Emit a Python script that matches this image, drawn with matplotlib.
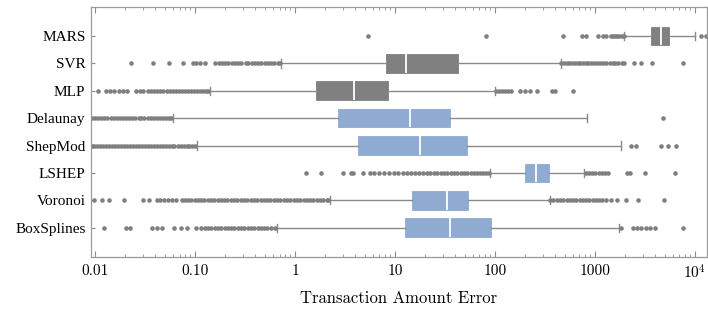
import matplotlib
matplotlib.use("Agg")
import matplotlib.pyplot as plt
import matplotlib.ticker as ticker

plt.rcParams['mathtext.fontset'] = 'cm'

# 各模型的名称（从上到下）
models = ['MARS', 'SVR', 'MLP', 'Delaunay', 'ShepMod', 'LSHEP', 'Voronoi', 'BoxSplines']

# 箱线统计量: 下须, Q1, 中位数, Q3, 上须
whis_lo = [1970, 0.73, 0.141, 0.0605, 0.104, 89.7, 2.23, 0.66]
q1 = [3630, 8.2, 1.61, 2.69, 4.26, 198, 14.8, 12.5]
med = [4570, 13.0, 3.86, 14.0, 17.7, 259, 33.2, 35.2]
q3 = [5460, 42.7, 8.5, 35.2, 52.5, 346, 53.7, 91.9]
whis_hi = [10100, 457, 99, 828, 1820, 775, 357, 1730]

# 离群点
fliers_mars = [5.4, 82, 484, 740, 810, 1080, 1200, 1300, 1450, 1520, 1600, 1680,
               1760, 1850, 1950, 11500, 12900]
fliers_svr = [0.023, 0.0377, 0.0553, 0.075, 0.095, 0.103, 0.112, 0.125,
              0.16, 0.172, 0.185, 0.2, 0.215, 0.232, 0.25, 0.268, 0.285,
              0.32, 0.34, 0.37, 0.40, 0.43, 0.46, 0.5, 0.54, 0.58, 0.62, 0.67, 0.71,
              460, 490, 520, 550, 590, 630, 670, 710, 760, 810, 860, 920, 980,
              1050, 1120, 1200, 1300, 1400, 1500, 1600, 1720, 1850, 1960,
              2450, 2880, 3720, 7540]
fliers_mlp = [0.0108, 0.013, 0.0142, 0.0155, 0.0172, 0.019, 0.0207, 0.0257, 0.028,
              0.0304, 0.034, 0.0365, 0.039, 0.042, 0.045, 0.048, 0.052, 0.056, 0.06,
              0.064, 0.069, 0.074, 0.079, 0.085, 0.091, 0.098, 0.105, 0.113, 0.121,
              0.13, 0.135,
              102, 110, 118, 127, 136, 145, 179, 202, 225, 262, 372, 400, 600]
fliers_delaunay = [0.0093, 0.01, 0.0107, 0.0115, 0.0124, 0.0133, 0.0143, 0.0153,
                   0.0165, 0.0177, 0.019, 0.0204, 0.022, 0.0236, 0.0253, 0.0272,
                   0.029, 0.031, 0.0335, 0.036, 0.0385, 0.0415, 0.0445, 0.048,
                   0.051, 0.055, 0.058, 4830]
fliers_shepmod = [0.0093, 0.0098, 0.0105, 0.0112, 0.012, 0.0128, 0.0137, 0.0147,
                  0.0157, 0.0168, 0.018, 0.0193, 0.0207, 0.0222, 0.0238, 0.0255,
                  0.0273, 0.0292, 0.0313, 0.0335, 0.036, 0.0385, 0.0412, 0.0442,
                  0.0473, 0.0507, 0.0543, 0.0582, 0.0623, 0.0668, 0.0716, 0.0767,
                  0.0822, 0.088, 0.0943, 0.101,
                  2300, 2580, 4570, 5350, 6480]
fliers_lshep = [1.3, 1.84, 3.0, 3.67, 3.8, 4.8,
                5.6, 6.2, 7.0, 7.8, 8.7, 9.7, 10.8, 12, 13.3, 14.6, 16, 17.5, 19,
                20.7, 22.5, 24.5, 26.5, 28.7, 31, 33.5, 36, 39, 42, 45.5, 49, 53,
                57, 61.5, 66, 71, 76.5, 82, 88,
                810, 870, 940, 1010, 1090, 1170, 1260, 1340, 2100, 2220, 3150, 6300]
fliers_voronoi = [0.0098, 0.0117, 0.0138, 0.0196, 0.0304, 0.0349, 0.0413, 0.045,
                  0.049, 0.0535, 0.0583, 0.0645,
                  0.0735, 0.079, 0.085, 0.092, 0.099, 0.107, 0.115, 0.124, 0.134,
                  0.145, 0.156, 0.168, 0.181, 0.196, 0.211, 0.228, 0.246, 0.265,
                  0.286, 0.309, 0.333, 0.36, 0.388, 0.419, 0.452, 0.488, 0.526,
                  0.568, 0.613, 0.661, 0.713, 0.77, 0.83, 0.896, 0.967, 1.04, 1.13,
                  1.22, 1.31, 1.42, 1.53, 1.65, 1.78, 1.92, 2.07, 2.14,
                  357, 385, 415, 447, 482, 520, 560, 604, 651, 702, 757, 816, 880,
                  948, 1020, 1100, 1190, 1295, 1450, 1650, 2050, 2680, 4860]
fliers_boxsplines = [0.0123, 0.0204, 0.0224, 0.037, 0.0414, 0.0464, 0.0616, 0.0718,
                     0.0836, 0.102, 0.116, 0.125, 0.135, 0.146, 0.157, 0.17, 0.183,
                     0.198, 0.213, 0.23, 0.248, 0.268, 0.289, 0.312, 0.336, 0.363,
                     0.391, 0.422, 0.455, 0.491, 0.53, 0.572, 0.628,
                     1820, 2390, 2640, 2920, 3230, 3580, 3950, 7660]
fliers = [fliers_mars, fliers_svr, fliers_mlp, fliers_delaunay, fliers_shepmod,
          fliers_lshep, fliers_voronoi, fliers_boxsplines]

gray = '#808080'
blue = '#8FABD1'
box_colors = [gray, gray, gray, blue, blue, blue, blue, blue]

tick_vals = [0.01, 0.1, 1, 10, 100, 1000, 10000]
tick_text = ['0.01', '0.10', '1', '10', '100', '1000', '$10^4$']

stats = []
for i, name in enumerate(models):
    stats.append(dict(label=name, whislo=whis_lo[i], q1=q1[i], med=med[i],
                      q3=q3[i], whishi=whis_hi[i], fliers=fliers[i]))

fig = plt.figure(figsize=(7.08, 3.2), dpi=100)
ax = fig.add_axes([0.1285, 0.197, 0.87, 0.781])

pos = list(range(len(models)))
res = ax.bxp(stats, positions=pos, widths=0.68, orientation='horizontal',
             patch_artist=True, capwidths=0.3,
             whiskerprops=dict(color='#8a8a8a', linewidth=1.0),
             capprops=dict(color='#8a8a8a', linewidth=1.0),
             medianprops=dict(color='white', linewidth=1.3),
             flierprops=dict(marker='o', markersize=3.3, markerfacecolor='#7f7f7f',
                             markeredgecolor='none', linestyle='none'))
for b, c in zip(res['boxes'], box_colors):
    b.set_facecolor(c)
    b.set_edgecolor(c)
    b.set_linewidth(0.6)

ax.set_xscale('log')
ax.set_xlim(0.0091, 13200)
ax.set_ylim(8.07, -1.06)

ax.xaxis.set_major_locator(ticker.FixedLocator(tick_vals))
ax.xaxis.set_major_formatter(ticker.FixedFormatter(tick_text))
ax.xaxis.set_minor_locator(ticker.LogLocator(base=10, subs=range(2, 10), numticks=20))
ax.xaxis.set_minor_formatter(ticker.NullFormatter())
ax.set_yticks(pos)
ax.set_yticklabels(models, family='Liberation Serif', fontsize=11)
for lab in ax.get_xticklabels():
    lab.set_family('cmr10')
    lab.set_fontsize(11)

ax.tick_params(axis='x', which='major', direction='in', length=4.5, width=0.8,
               color='#8a8a8a', top=True, pad=5)
ax.tick_params(axis='x', which='minor', direction='in', length=2.5, width=0.6,
               color='#8a8a8a', top=True)
ax.tick_params(axis='y', direction='in', length=3, width=0.8, color='#8a8a8a', pad=4)
for s in ax.spines.values():
    s.set_color('#999999')
    s.set_linewidth(0.9)

ax.set_xlabel('Transaction Amount Error', family='cmr10', fontsize=12, labelpad=6)

fig.savefig('out.png', dpi=100)
